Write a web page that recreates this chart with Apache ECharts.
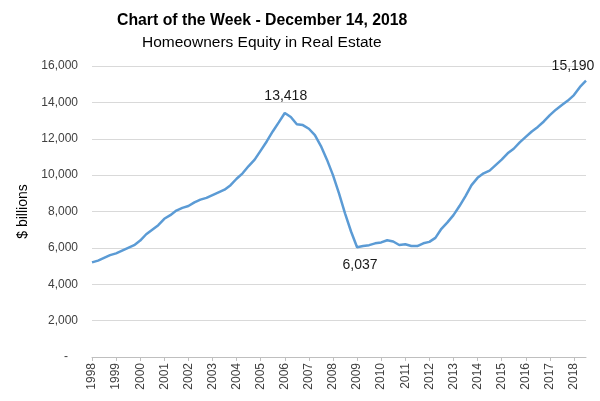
<!DOCTYPE html>
<html>
<head>
<meta charset="utf-8">
<script src="https://cdn.jsdelivr.net/npm/echarts@6/dist/echarts.min.js"></script>
<style>html,body{margin:0;padding:0;background:#fff;}#c{width:600px;height:401px;}</style>
</head>
<body>
<div id="c"></div>
<script>
const years = ['1998','1999','2000','2001','2002','2003','2004','2005','2006','2007','2008','2009','2010','2011','2012','2013','2014','2015','2016','2017','2018'];
const quarters = [];
years.forEach(y => { ['Q1','Q2','Q3','Q4'].forEach(q => quarters.push(y + q)); });
quarters.length = 83; // 1998Q1 .. 2018Q3
const equity = [
  5200, 5300, 5450, 5600,
  5700, 5850, 6000, 6150,
  6400, 6750, 7000, 7250,
  7600, 7800, 8050, 8200,
  8300, 8500, 8650, 8750,
  8900, 9050, 9200, 9450,
  9800, 10100, 10500, 10850,
  11350, 11850, 12400, 12900,
  13418, 13200, 12800, 12750,
  12550, 12200, 11600, 10850,
  10000, 9000, 7900, 6900,
  6037, 6100, 6150, 6250,
  6300, 6420, 6350, 6160,
  6200, 6100, 6100, 6250,
  6330, 6550, 7050, 7400,
  7800, 8300, 8850, 9450,
  9850, 10100, 10250, 10550,
  10850, 11200, 11450, 11800,
  12100, 12400, 12650, 12950,
  13300, 13600, 13850, 14100,
  14400, 14850, 15190
];
const callouts = [
  {idx: 32, pos: 'top', offset: [1, -3]},
  {idx: 44, pos: 'bottom', offset: [3, 4]},
  {idx: 82, pos: 'top', offset: [-13, -1]}
];
const fmt = v => v.toLocaleString('en-US');
const chart = echarts.init(document.getElementById('c'), null, {renderer: 'canvas'});
chart.setOption({
  backgroundColor: '#fff',
  animation: false,
  textStyle: {fontFamily: 'Liberation Sans, Arial, sans-serif'},
  title: [
    {text: 'Chart of the Week - December 14, 2018', left: 112, top: 8,
     textStyle: {fontSize: 15.8, fontWeight: 'bold', color: '#000'}},
    {text: 'Homeowners Equity in Real Estate', left: 137, top: 30,
     textStyle: {fontSize: 15.5, fontWeight: 'normal', color: '#000'}}
  ],
  grid: {left: 92, right: 14, top: 66, bottom: 44, containLabel: false},
  xAxis: {
    type: 'category', data: quarters, boundaryGap: false,
    axisLine: {lineStyle: {color: '#bfbfbf'}},
    axisTick: {show: true, length: 4, interval: i => i % 4 === 0, lineStyle: {color: '#bfbfbf'}},
    axisLabel: {interval: i => i % 4 === 0, rotate: 90, formatter: v => v.slice(0, 4),
      fontSize: 12, color: '#404040', margin: 6}
  },
  yAxis: {
    type: 'value', min: 0, max: 16000, interval: 2000,
    name: '$ billions', nameLocation: 'middle', nameGap: 57,
    nameTextStyle: {fontSize: 14, color: '#000'},
    axisLine: {show: false}, axisTick: {show: false},
    splitLine: {lineStyle: {color: '#d9d9d9'}},
    axisLabel: {fontSize: 12, color: '#404040', margin: 14,
      formatter: v => v === 0 ? '-   ' : fmt(v)}
  },
  series: [{
    type: 'line', data: equity, showSymbol: false, symbol: 'none',
    lineStyle: {color: '#5B9BD5', width: 2.5}, itemStyle: {color: '#5B9BD5'},
    markPoint: {
      symbol: 'circle', symbolSize: 1,
      itemStyle: {color: 'rgba(0,0,0,0)'},
      data: callouts.map(c => ({
        coord: [quarters[c.idx], equity[c.idx]], value: equity[c.idx],
        label: {show: true, position: c.pos, offset: c.offset, distance: 6,
          formatter: p => fmt(p.value), fontSize: 14, color: '#1a1a1a'}
      }))
    }
  }]
});
</script>
</body>
</html>
